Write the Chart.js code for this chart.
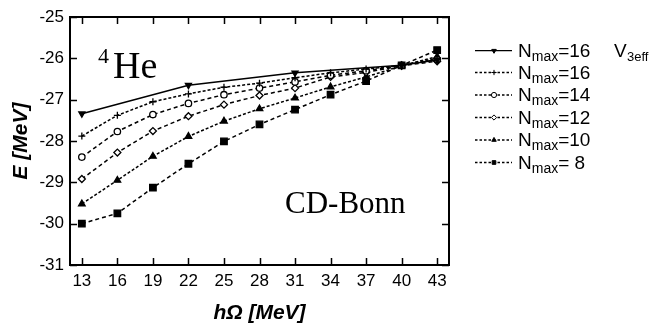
<!DOCTYPE html>
<html>
<head>
<meta charset="utf-8">
<title>4He CD-Bonn</title>
<script src="https://cdn.jsdelivr.net/npm/chart.js@4.4.0/dist/chart.umd.min.js"></script>
<style>
  body { margin: 0; background: #fff; }
  canvas { display: block; }
</style>
</head>
<body>
<canvas id="chart" width="651" height="329"></canvas>
<script>
// data
const hw = [13, 16, 19, 22, 25, 28, 31, 34, 37, 40, 43];
const v3effHw = [13, 22, 31, 40, 43];
const v3eff = [-27.34, -26.65, -26.35, -26.17, -26.04];
const nmax16 = [-27.88, -27.38, -27.05, -26.86, -26.70, -26.60, -26.47, -26.35, -26.26, -26.17, -26.00];
const nmax14 = [-28.39, -27.77, -27.36, -27.09, -26.88, -26.72, -26.57, -26.41, -26.30, -26.17, -26.03];
const nmax12 = [-28.92, -28.28, -27.76, -27.40, -27.12, -26.90, -26.72, -26.45, -26.34, -26.18, -26.07];
const nmax10 = [-29.52, -28.95, -28.37, -27.89, -27.52, -27.22, -26.96, -26.69, -26.45, -26.18, -25.96];
const nmax8 = [-30.00, -29.75, -29.13, -28.55, -28.01, -27.60, -27.24, -26.88, -26.55, -26.17, -25.80];

const xTicks = [13, 16, 19, 22, 25, 28, 31, 34, 37, 40, 43];
const yTicks = [-31, -30, -29, -28, -27, -26, -25];

const legendNames = ['16', '16', '14', '12', '10', ' 8'];

const SANS = '"Liberation Sans", Arial, sans-serif';
const SERIF = '"Liberation Serif", "Times New Roman", serif';

function pts(xs, ys) {
    return xs.map((x, i) => ({ x: x, y: ys[i] }));
}

const styles = [
    { pointStyle: 'triangle', rotation: 180, radius: 3.5, fill: '#000', dash: [] },
    { pointStyle: 'cross', rotation: 0, radius: 3.5, fill: '#000', dash: [3, 2] },
    { pointStyle: 'circle', rotation: 0, radius: 3.2, fill: '#fff', dash: [4, 3] },
    { pointStyle: 'rectRot', rotation: 0, radius: 3.5, fill: '#fff', dash: [4, 3] },
    { pointStyle: 'triangle', rotation: 0, radius: 3.8, fill: '#000', dash: [3, 2] },
    { pointStyle: 'rect', rotation: 0, radius: 4.6, fill: '#000', dash: [4, 3] }
];

const seriesData = [
    pts(v3effHw, v3eff),
    pts(hw, nmax16),
    pts(hw, nmax14),
    pts(hw, nmax12),
    pts(hw, nmax10),
    pts(hw, nmax8)
];

const datasets = seriesData.map((d, i) => ({
    label: 'Nmax=' + legendNames[i],
    data: d,
    borderColor: '#000',
    borderWidth: 1.5,
    borderDash: styles[i].dash,
    backgroundColor: styles[i].fill,
    pointStyle: styles[i].pointStyle,
    pointRotation: styles[i].rotation,
    pointRadius: styles[i].radius,
    pointBorderWidth: 1.3,
    pointBorderColor: '#000',
    pointBackgroundColor: styles[i].fill,
    tension: 0,
    fill: false
}));

// frame with inward ticks, annotations, legend
const decorPlugin = {
    id: 'decor',
    afterDraw(chart) {
        const ctx = chart.ctx;
        const a = chart.chartArea;
        const xs = chart.scales.x;
        const ys = chart.scales.y;
        ctx.save();
        ctx.strokeStyle = '#000';
        ctx.lineWidth = 2;
        ctx.setLineDash([]);
        ctx.strokeRect(a.left, a.top, a.right - a.left, a.bottom - a.top);
        ctx.lineWidth = 1.5;
        ctx.beginPath();
        xTicks.forEach(v => {
            const px = Math.round(xs.getPixelForValue(v)) + 0.5;
            ctx.moveTo(px, a.bottom); ctx.lineTo(px, a.bottom - 7);
            ctx.moveTo(px, a.top); ctx.lineTo(px, a.top + 7);
        });
        yTicks.forEach(v => {
            const py = Math.round(ys.getPixelForValue(v)) + 0.5;
            ctx.moveTo(a.left, py); ctx.lineTo(a.left + 7, py);
            ctx.moveTo(a.right, py); ctx.lineTo(a.right - 7, py);
        });
        ctx.stroke();

        // 4He and CD-Bonn labels
        ctx.fillStyle = '#000';
        ctx.textBaseline = 'alphabetic';
        ctx.textAlign = 'left';
        ctx.font = '22px ' + SERIF;
        ctx.fillText('4', 98, 63);
        ctx.font = '38px ' + SERIF;
        ctx.fillText('He', 113, 78);
        ctx.font = '31px ' + SERIF;
        ctx.fillText('CD-Bonn', 285, 213);

        // legend
        const rowY = [50.7, 72.5, 95, 117.5, 140, 162.5];
        rowY.forEach((y, i) => {
            const st = styles[i];
            ctx.lineWidth = 1.3;
            ctx.setLineDash(i === 0 ? [] : [2.5, 2]);
            ctx.beginPath();
            ctx.moveTo(475, y);
            ctx.lineTo(512, y);
            ctx.stroke();
            ctx.setLineDash([]);
            ctx.fillStyle = st.fill;
            ctx.lineWidth = 1;
            Chart.helpers.drawPoint(ctx, {
                pointStyle: st.pointStyle,
                rotation: st.rotation,
                radius: 2.6,
                borderWidth: 1
            }, 494, y);
            ctx.fillStyle = '#000';
            let x = 518;
            const base = y + 6;
            ctx.font = '19px ' + SANS;
            ctx.fillText('N', x, base);
            x += ctx.measureText('N').width;
            ctx.font = '14px ' + SANS;
            ctx.fillText('max', x, base + 4);
            x += ctx.measureText('max').width;
            ctx.font = '19px ' + SANS;
            ctx.fillText('=' + legendNames[i], x, base);
            if (i === 0) {
                ctx.fillText('V', 614, base);
                ctx.font = '13px ' + SANS;
                ctx.fillText('3eff', 627, base + 4);
            }
        });
        ctx.restore();
    }
};

function initChart() {
    const ctx = document.getElementById('chart').getContext('2d');
    new Chart(ctx, {
        type: 'line',
        data: { datasets: datasets },
        options: {
            responsive: false,
            animation: false,
            devicePixelRatio: 1,
            layout: { padding: { left: 0, top: 17, right: 202, bottom: 0 } },
            plugins: {
                legend: { display: false },
                tooltip: { enabled: false }
            },
            scales: {
                x: {
                    type: 'linear',
                    min: 12,
                    max: 44,
                    afterBuildTicks: s => { s.ticks = xTicks.map(v => ({ value: v })); },
                    afterFit: s => { s.height = 64; },
                    grid: { display: false, drawTicks: false },
                    border: { display: false },
                    ticks: {
                        color: '#000',
                        padding: 6,
                        maxRotation: 0,
                        autoSkip: false,
                        font: { family: SANS, size: 17 }
                    },
                    title: {
                        display: true,
                        text: 'hΩ [MeV]',
                        color: '#000',
                        padding: { top: 0, bottom: 3 },
                        font: { family: SANS, size: 21, weight: 'bold', style: 'italic' }
                    }
                },
                y: {
                    type: 'linear',
                    min: -31,
                    max: -25,
                    afterBuildTicks: s => { s.ticks = yTicks.map(v => ({ value: v })); },
                    afterFit: s => { s.width = 70; },
                    grid: { display: false, drawTicks: false },
                    border: { display: false },
                    ticks: {
                        color: '#000',
                        padding: 6,
                        font: { family: SANS, size: 17 }
                    },
                    title: {
                        display: true,
                        text: 'E [MeV]',
                        color: '#000',
                        padding: { top: 9, bottom: 0 },
                        font: { family: SANS, size: 21, weight: 'bold', style: 'italic' }
                    }
                }
            }
        },
        plugins: [decorPlugin]
    });
}

document.addEventListener('DOMContentLoaded', initChart);
</script>
</body>
</html>
